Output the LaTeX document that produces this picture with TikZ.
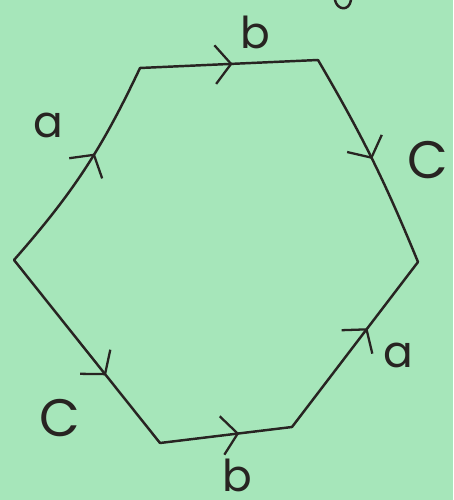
\documentclass[tikz,border=0pt]{standalone}
\usepackage{fontspec}
\newfontfamily\handfont{Poppins}
\usepackage{tikz}
\usetikzlibrary{
  arrows.meta,%
  decorations.markings,%
  positioning
}
\definecolor{paper}{RGB}{166,230,186}
\definecolor{pen}{RGB}{40,36,34}
\tikzset{edge/.style={draw=pen, line width=1.4pt, line cap=round}}
\tikzset{midarrow/.style={postaction={decorate},
    decoration={markings, mark=at position #1 with
      {\arrow{Straight Barb[length=9pt, width=22pt, line width=1.3pt]}}}}}
\tikzset{lbl/.style={text=pen, inner sep=0pt, text depth=0pt, font=\handfont\fontsize{25}{28}\selectfont}}

\begin{document}
\begin{tikzpicture}[x=0.02cm, y=0.02cm]
                \fill[paper] (0, 0) rectangle (453, 500);%
                \useasboundingbox (0, 0) rectangle (453, 500);%
                % corners of the hexagon
                \coordinate (L) at (14, 240);%
                \coordinate (TL) at (140, 432);%
                \coordinate (TR) at (318, 440);%
                \coordinate (R) at (418, 238);%
                \coordinate (BR) at (292, 73);%
                \coordinate (BL) at (160, 57);%
                \draw[edge, midarrow=0.58] (L) to[bend right=8] (TL);%
                \draw[edge, midarrow=0.52] (TL) -- (TR);%
                \draw[edge, midarrow=0.5] (TR) to[bend left=4] (R);%
                \draw[edge, midarrow=0.6] (BR) -- (R);%
                \draw[edge, midarrow=0.63] (L) -- (BL);%
                \draw[edge, midarrow=0.6] (BL) -- (BR);%
                % edge labels
                \node[lbl] (a1) at (48, 375) {a};%
                \node[lbl] (b1) at (255, 468) {b};%
                \node[lbl, font=\handfont\fontsize{30}{32}\selectfont] (c1) at (428, 340) {C};%
                \node[lbl] (a2) at (398, 145) {a};%
                \node[lbl, font=\handfont\fontsize{30}{32}\selectfont] (c2) at (60, 82) {C};%
                \node[lbl, anchor=base] (b2) at (237, 9) {b};%
                % cut off letter at the top
                \draw[edge] (335, 500) .. controls (337, 490) and (349, 488) .. (351, 500);%
              \end{tikzpicture}
\end{document}
